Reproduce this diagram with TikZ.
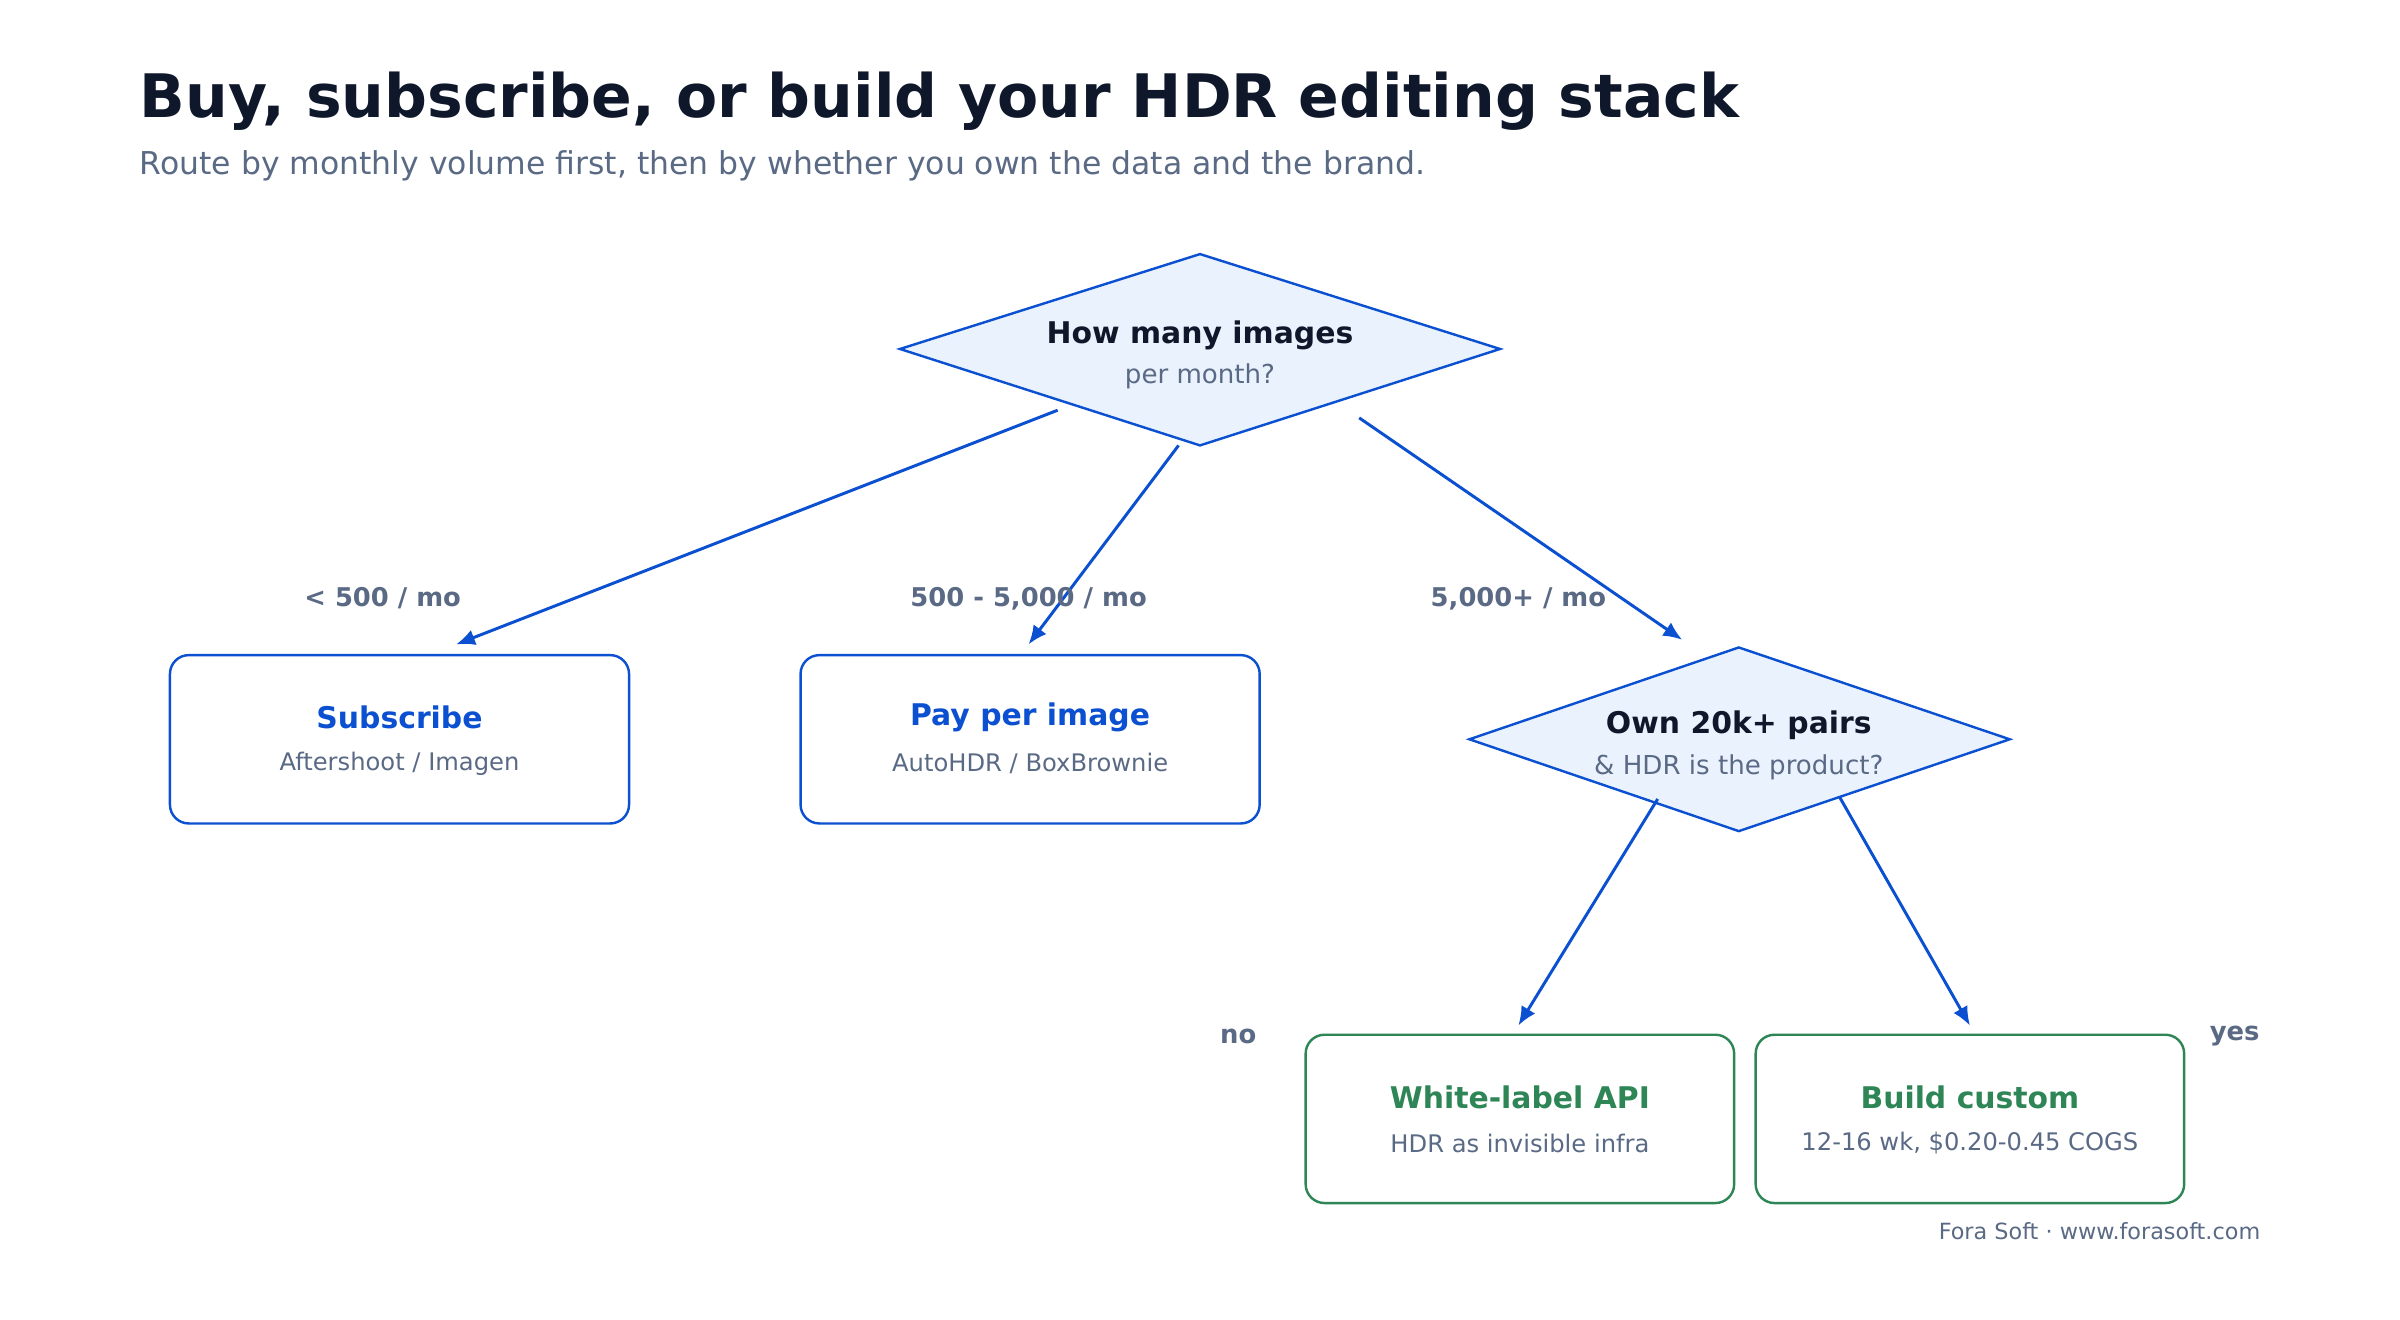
\documentclass[tikz,border=0pt]{standalone}
\usepackage{fontspec}
\setmainfont{DejaVu Sans}
\usetikzlibrary{shapes.geometric,arrows.meta}
\definecolor{ink}{HTML}{0F172A}
\definecolor{muted}{HTML}{5A6A85}
\definecolor{blu}{HTML}{0B50D0}
\definecolor{bluefill}{HTML}{EAF2FE}
\definecolor{grn}{HTML}{2E8555}
\tikzset{
  leaf/.style={draw=#1,rounded corners=7pt,line width=0.9pt,minimum width=6cm,minimum height=2.2cm},
  head/.style={font=\fontsize{11.1}{13}\selectfont\bfseries},
  note/.style={font=\fontsize{9}{11}\selectfont,text=muted},
  lbl/.style={font=\fontsize{9.6}{11}\selectfont\bfseries,text=muted},
  flow/.style={blu,line width=1.1pt,-{Latex[length=7pt,width=6pt]}}
}
\begin{document}
\begin{tikzpicture}[x=0.02cm,y=-0.02cm]
\useasboundingbox[fill=white] (0,0) rectangle (1568,862);
\node[anchor=base west,inner sep=0pt,text=ink,font=\fontsize{22.3}{26}\selectfont\bfseries] (title) at (91,77) {Buy, subscribe, or build your HDR editing stack};
\node[anchor=base west,inner sep=0pt,text=muted,font=\fontsize{11.7}{14}\selectfont] (sub) at (91,114) {Route by monthly volume first, then by whether you own the data and the brand.};
% decisions
\draw[blu,fill=bluefill,line width=0.9pt] (588,228) -- (784,166) -- (980,228) -- (784,291) -- cycle;
\node[head,text=ink] (q1) at (784,219) {How many images};
\node[note,font=\fontsize{9.7}{11}\selectfont] (q1b) at (784,246) {per month?};
\draw[blu,fill=bluefill,line width=0.9pt] (960,483) -- (1136,423) -- (1313,483) -- (1136,543) -- cycle;
\node[head,text=ink] (q2) at (1136,474) {Own 20k+ pairs};
\node[note,font=\fontsize{9.7}{11}\selectfont] (q2b) at (1136,501) {\& HDR is the product?};
% outcomes
\node[leaf=blu] (subs) at (261,483) {};
\node[head,text=blu] at (261,469) {Subscribe};
\node[note] at (261,499) {Aftershoot / Imagen};
\node[leaf=blu] (ppi) at (673,483) {};
\node[head,text=blu] at (673,469) {Pay per image};
\node[note] at (673,499) {AutoHDR / BoxBrownie};
\node[leaf=grn,minimum width=5.6cm] (wl) at (993,731) {};
\node[head,text=grn] at (993,717) {White-label API};
\node[note] at (993,747) {HDR as invisible infra};
\node[leaf=grn,minimum width=5.6cm] (bc) at (1287,731) {};
\node[head,text=grn] at (1287,717) {Build custom};
\node[note] at (1287,747) {12-16 wk, \$0.20-0.45 COGS};
% connectors
\coordinate (a1) at (691,268); \coordinate (b1) at (298,421);
\coordinate (a2) at (770,291); \coordinate (b2) at (672,421);
\coordinate (a3) at (888,273); \coordinate (b3) at (1099,418);
\coordinate (a4) at (1083,522); \coordinate (b4) at (992,670);
\coordinate (a5) at (1202,521); \coordinate (b5) at (1287,670);
\draw[flow] (a1) -- (b1);
\draw[flow] (a2) -- (b2);
\draw[flow] (a3) -- (b3);
\draw[flow] (a4) -- (b4);
\draw[flow] (a5) -- (b5);
\node[lbl] (l1) at (250,391) {< 500 / mo};
\node[lbl] (l2) at (672,391) {500 - 5,000 / mo};
\node[lbl] (l3) at (992,391) {5,000+ / mo};
\node[lbl] (l4) at (809,677) {no};
\node[lbl] (l5) at (1460,677) {yes};
\node[anchor=base east,inner sep=0pt,text=muted,font=\fontsize{8.3}{10}\selectfont] (foot) at (1477,810) {Fora Soft · www.forasoft.com};
\end{tikzpicture}
\end{document}
